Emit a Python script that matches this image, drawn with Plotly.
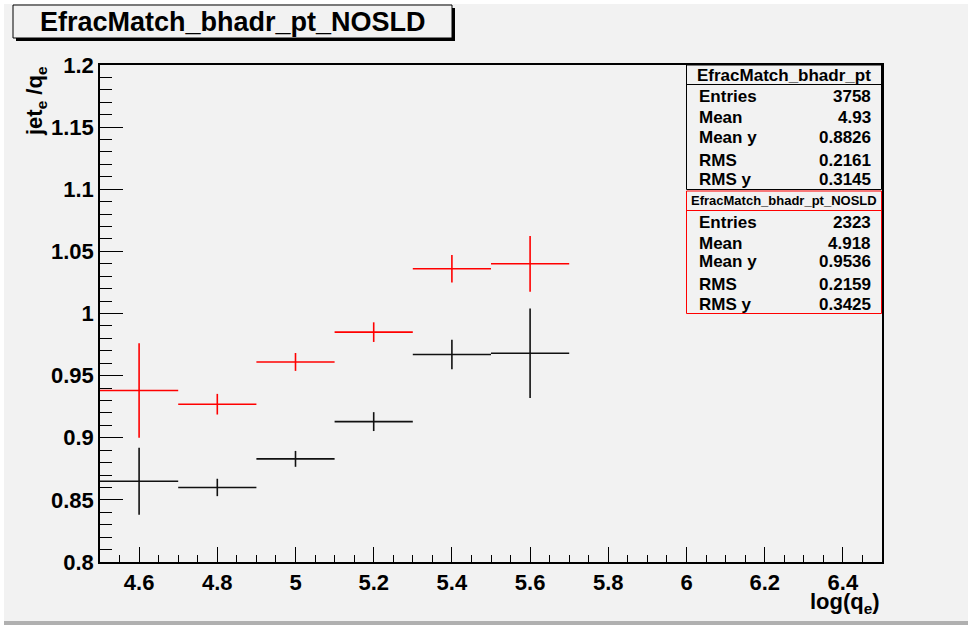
import plotly.graph_objects as go

# Profile bins (lower edges, width) and per-bin mean / error on the mean
bin_low = [4.5, 4.7, 4.9, 5.1, 5.3, 5.5]
bin_width = 0.2

all_mean = [0.865, 0.860, 0.883, 0.913, 0.967, 0.968]
all_err = [0.027, 0.007, 0.0064, 0.0076, 0.0118, 0.036]

nosld_mean = [0.938, 0.927, 0.961, 0.985, 1.036, 1.040]
nosld_err = [0.038, 0.0083, 0.0072, 0.0079, 0.011, 0.0224]

x_tick_vals = [4.6, 4.8, 5.0, 5.2, 5.4, 5.6, 5.8, 6.0, 6.2, 6.4]
x_tick_text = ["4.6", "4.8", "5", "5.2", "5.4", "5.6", "5.8", "6", "6.2", "6.4"]
y_tick_vals = [0.8, 0.85, 0.9, 0.95, 1.0, 1.05, 1.1, 1.15, 1.2]
y_tick_text = ["0.8", "0.85", "0.9", "0.95", "1", "1.05", "1.1", "1.15", "1.2"]

stats_labels = ["Entries", "Mean", "Mean y", "RMS", "RMS y"]
stats_all = ["3758", "4.93", "0.8826", "0.2161", "0.3145"]
stats_nosld = ["2323", "4.918", "0.9536", "0.2159", "0.3425"]

name_all = "EfracMatch_bhadr_pt"
name_nosld = "EfracMatch_bhadr_pt_NOSLD"

centers = [lo + bin_width / 2 for lo in bin_low]
half_w = [bin_width / 2] * len(bin_low)

W, H = 968, 627
L, R, T, B = 100, 86, 65, 65
PW, PH = W - L - R, H - T - B


def px(x):
    return (x - L) / PW


def py(y):
    return (H - B - y) / PH


FONT = "Liberation Sans, Arial, Helvetica, sans-serif"
BG = "#f2f2f2"

fig = go.Figure()


def profile(mean, err, color, name):
    fig.add_trace(go.Scatter(
        x=centers, y=mean, name=name, mode="markers",
        marker=dict(size=1, color=color),
        error_x=dict(type="data", array=half_w, width=0, thickness=1.6, color=color),
        error_y=dict(type="data", array=err, width=0, thickness=1.6, color=color),
        showlegend=False, hoverinfo="x+y",
    ))


profile(all_mean, all_err, "#111111", name_all)
profile(nosld_mean, nosld_err, "#ff0000", name_nosld)

shapes = []
annotations = []


def rect(x0, y0, x1, y1, fill=None, line_color=None, lw=1):
    shapes.append(dict(
        type="rect", xref="paper", yref="paper",
        x0=px(x0), x1=px(x1), y0=py(y0), y1=py(y1),
        fillcolor=fill if fill else "rgba(0,0,0,0)",
        line=dict(color=line_color if line_color else "rgba(0,0,0,0)", width=lw if line_color else 0),
        layer="above",
    ))


def hline(x0, x1, y, color, lw=1):
    shapes.append(dict(
        type="line", xref="paper", yref="paper",
        x0=px(x0), x1=px(x1), y0=py(y), y1=py(y),
        line=dict(color=color, width=lw), layer="above",
    ))


def text(x, y, s, size, xanchor="left", yanchor="middle", angle=0, color="black"):
    annotations.append(dict(
        xref="paper", yref="paper", x=px(x), y=py(y), text=s,
        showarrow=False, xanchor=xanchor, yanchor=yanchor, textangle=angle,
        font=dict(family=FONT, size=size, color=color, weight="bold"),
    ))


# canvas bevel
rect(0, 0, W, 4, fill="white")
rect(0, 0, 4, H, fill="white")
rect(4, 621, W, 625, fill="#b0b0b0")
rect(0, 625, W, H, fill="white")

# title box with drop shadow
rect(16, 38, 455, 41, fill="black")
rect(452, 8, 455, 41, fill="black")
rect(13, 5, 452, 38, fill=BG, line_color="black", lw=1)
text(232.5, 22, name_nosld, 27, xanchor="center")

# statistics boxes
row_all = [96.7, 117.3, 137.3, 160, 179.3]
row_nosld = [222.3, 243.3, 261.7, 284, 304]
rect(686.5, 65, 881.5, 189.5, fill=BG, line_color="black", lw=1)
hline(686.5, 881.5, 84.5, "black")
text(784, 75, name_all, 17, xanchor="center")
for lab, val, y in zip(stats_labels, stats_all, row_all):
    text(697, y, lab, 17)
    text(873, y, val, 17, xanchor="right")

rect(686.5, 191, 881.5, 313.5, fill=BG, line_color="#ff0000", lw=1)
hline(686.5, 881.5, 210.5, "#ff0000")
text(784, 200.7, name_nosld, 13, xanchor="center")
for lab, val, y in zip(stats_labels, stats_nosld, row_nosld):
    text(697, y, lab, 17)
    text(873, y, val, 17, xanchor="right")

# axis titles
text(882, 587, "log(q<sub>e</sub>)", 22, xanchor="right", yanchor="top")
text(36, 64, "jet<sub>e</sub> /q<sub>e</sub>", 22, xanchor="center", yanchor="top", angle=-90)

axis_common = dict(
    showgrid=False, zeroline=False, showline=True, linecolor="black", linewidth=1.5,
    mirror=True, ticks="inside", tickcolor="black", tickwidth=1,
    tickfont=dict(family=FONT, size=22, color="black", weight="bold"),
)

fig.update_layout(
    width=W, height=H, autosize=False,
    margin=dict(l=L, r=R, t=T, b=B, pad=0),
    paper_bgcolor=BG, plot_bgcolor=BG,
    xaxis=dict(range=[4.5, 6.5], tickmode="array", tickvals=x_tick_vals, ticktext=x_tick_text,
               ticklen=15, minor=dict(dtick=0.05, tick0=4.5, ticklen=7, ticks="inside",
                                      tickcolor="black", tickwidth=1),
               **axis_common),
    yaxis=dict(range=[0.8, 1.2], tickmode="array", tickvals=y_tick_vals, ticktext=y_tick_text,
               ticklen=23, minor=dict(dtick=0.01, tick0=0.8, ticklen=12, ticks="inside",
                                      tickcolor="black", tickwidth=1),
               **axis_common),
    shapes=shapes, annotations=annotations,
)

fig.write_html("out.html")
